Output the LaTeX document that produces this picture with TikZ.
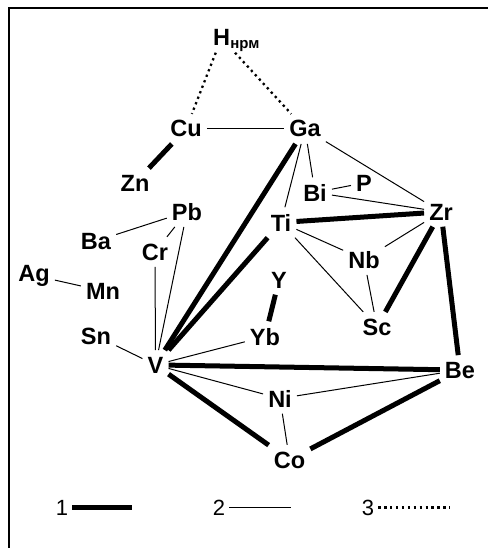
\documentclass[tikz,border=0pt]{standalone}
\usepackage{fontspec}
\setmainfont{Liberation Sans}
\usetikzlibrary{positioning}

\begin{document}
\begin{tikzpicture}[x=1pt, y=-1pt,
  elem/.style={font=\fontsize{23.5}{23.5}\selectfont\bfseries, inner xsep=5pt, inner ysep=6.5pt, anchor=base},
  subsc/.style={font=\fontsize{15}{15}\selectfont\bfseries, inner sep=0pt, anchor=base west},
  keynum/.style={font=\fontsize{22}{22}\selectfont, inner sep=4pt, anchor=base},
  bond1/.style={line width=5pt},
  bond2/.style={line width=1pt},
  bond3/.style={line width=2.3pt, dash pattern=on 2.3pt off 3.6pt},
]

  \useasboundingbox (0,0) rectangle (487,548);
  \draw[line width=2pt] (9,8.5) rectangle (497,558);

  % Elements
  \node[elem] (H) at (221.5,46) {H};
  \node[subsc] (Hs) at ([xshift=-5pt,yshift=-2.5pt]H.base east) {нрм};
  \foreach \el/\x/\y in {Cu/186/137, Ga/305/137, Zn/135/191, Bi/315/201,
      P/364/191, Pb/187/220, Zr/441/220, Ti/281/231, Ba/96/249, Cr/155/260,
      Nb/364/268, Ag/34/281, Mn/103/299, Y/279/288, Sc/377/335, Sn/96/344,
      Yb/265/345, V/155.5/373, Be/460/378, Ni/280/407, Co/289.5/468}{
    \node[elem] (\el) at (\x,\y) {\el};
  }

  % Bonds
  \foreach \a/\b in {Cu/Zn, Ga/V, Ti/V, Ti/Zr, Zr/Sc, Zr/Be, Y/Yb, V/Be,
      V/Co, Co/Be}{
    \draw[bond1] (\a) -- (\b);
  }
  \foreach \a/\b in {Cu/Ga, Ga/Bi, Ga/Ti, Ga/Zr, Bi/P, Bi/Zr, Ti/Nb, Ti/Sc,
      Nb/Zr, Nb/Sc, Ba/Pb, Pb/Cr, Pb/V, Cr/V, Ag/Mn, Sn/V, V/Yb, V/Ni,
      Ni/Be, Ni/Co}{
    \draw[bond2] (\a) -- (\b);
  }
  \draw[bond3] (H) -- (Cu);
  \draw[bond3] (H) -- (Ga);

  % Legend
  \node[keynum] (k1) at (62,515) {1};
  \node[keynum] (k2) at (219,515) {2};
  \node[keynum] (k3) at (368,515) {3};
  \coordinate[right=60pt of k1.east] (k1end);
  \coordinate[right=62pt of k2.east] (k2end);
  \coordinate[right=72pt of k3.east] (k3end);
  \draw[bond1] (k1.east) -- (k1end);
  \draw[bond2] (k2.east) -- (k2end);
  \draw[bond3] (k3.east) -- (k3end);

\end{tikzpicture}
\end{document}
